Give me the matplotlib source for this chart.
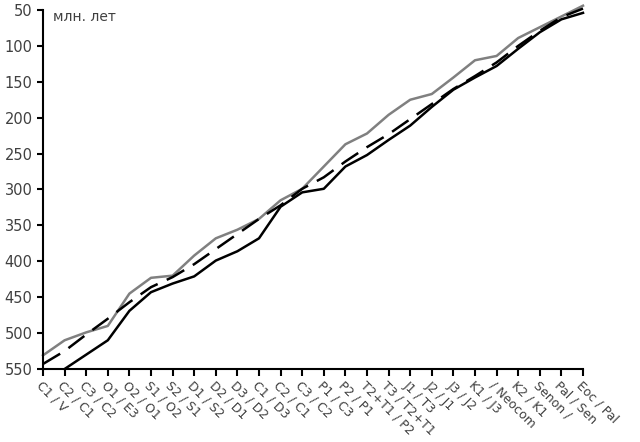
import matplotlib
matplotlib.use("Agg")
import matplotlib.pyplot as plt
import numpy as np

labels = ["C1 / V", "C2 / C1", "C3 / C2", "O1 / E3", "O2 / O1", "S1 / O2",
          "S2 / S1", "D1 / S2", "D2 / D1", "D3 / D2", "C1 / D3", "C2 / C1",
          "C3 / C2", "P1 / C3", "P2 / P1", "T2+T1 / P2", "T3 / T2+T1",
          "J1 / T3", "J2 / J1", "J3 / J2", "K1 / J3", "/ Neocom", "K2 / K1",
          "Senon /", "Pal / Sen", "Eoc / Pal"]

gray_line = [531, 510, 499, 490, 445, 423, 420, 392, 368, 356, 341, 315, 299,
             268, 237, 222, 196, 175, 167, 144, 120, 114, 89, 74, 59, 44]
# first black point lies below the axis, not visible
black_line = [np.nan, 550, 530, 510, 469, 443, 431, 421, 399, 386, 368, 324, 304,
              299, 268, 252, 231, 211, 185, 161, 144, 128, 104, 81, 63, 54]
dashed_line = [543, 525, 502, 480, 457, 436, 422, 404, 383, 362, 341, 322, 299,
               283, 261, 241, 223, 202, 181, 160, 142, 123, 100, 79, 60, 48]

x = np.arange(len(labels))

fig = plt.figure(figsize=(6.4, 4.42), dpi=100)
ax = fig.add_axes([43/640, 1-369/442, 540/640, 359/442])

ax.plot(x, gray_line, color='#808080', lw=1.8, solid_joinstyle='round', clip_on=False)
ax.plot(x, black_line, color='black', lw=1.8, solid_joinstyle='round', clip_on=False)
ax.plot(x, dashed_line, color='black', lw=1.8, dashes=(8, 4), clip_on=False)

ax.set_xlim(0, len(labels)-1)
ax.set_ylim(550, 50)
ax.set_yticks(np.arange(50, 551, 50))
ax.set_xticks(x)
ax.set_xticklabels(labels, rotation=-45, ha='left', va='top',
                   rotation_mode='anchor', fontsize=9, color='#404040')
ax.tick_params(axis='y', labelsize=10.5, labelcolor='#404040', length=4,
               width=1.5, direction='out')
ax.tick_params(axis='x', length=5, width=1.5, direction='out', pad=2)

for s in ['top', 'right']:
    ax.spines[s].set_visible(False)
for s in ['left', 'bottom']:
    ax.spines[s].set_linewidth(1.5)

ax.text(0.018, 1.0, "млн. лет", transform=ax.transAxes, ha='left', va='top',
        fontsize=10, color='#404040')

fig.savefig("out.png", dpi=100)
